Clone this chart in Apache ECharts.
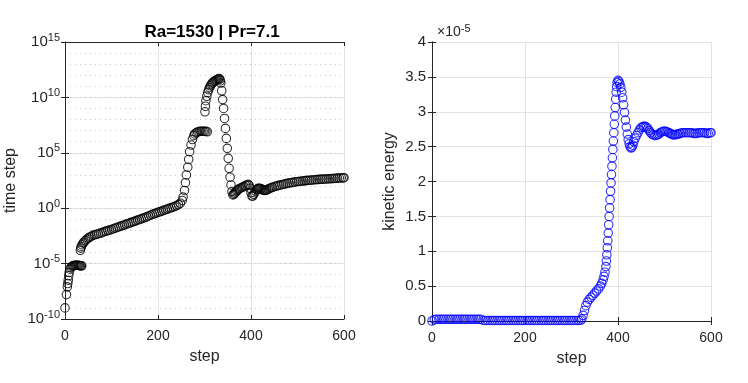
<!DOCTYPE html>
<html>
<head>
<meta charset="utf-8">
<script src="https://cdn.jsdelivr.net/npm/echarts@6/dist/echarts.min.js"></script>
<style>
  html, body { margin: 0; padding: 0; background: #fff; }
  #main { width: 748px; height: 383px; }
</style>
</head>
<body>
<div id="main"></div>
<script>
// left panel: time step, read as log10 exponents off the log axis
const stepsTime = [
  0, 3, 5, 6, 7, 8, 9, 11, 13, 15, 17, 19, 21, 23, 25, 27, 29, 31, 33, 35, 36,
  33, 34, 35, 37, 39, 41, 44, 47, 50, 53, 56, 60, 64, 68, 72, 76, 80, 84, 88, 92, 96,
  100, 104, 108, 112, 116, 120, 124, 128, 132, 136, 140, 144, 148, 152, 156, 160, 164, 168,
  172, 176, 180, 184, 188, 192, 196, 200, 204, 208, 212, 216, 220, 224, 228, 232, 236, 240,
  244, 248, 252, 254, 257, 259, 261, 264, 266, 268, 271, 274, 277, 279, 282, 285, 288, 291,
  294, 297, 300, 303, 306,
  301, 302, 303, 305, 307, 309, 311, 313, 315, 317, 319, 321, 323, 325, 327, 329, 331, 333,
  334, 335, 337, 339, 341, 343, 345, 347, 349, 351, 353, 355, 357, 359, 361, 363, 365, 367,
  369, 371, 373, 376, 379, 382, 385, 388, 391, 394, 396, 398, 400, 402, 404, 406, 408, 410,
  412, 414, 416, 418, 420, 422, 424, 426, 428, 430, 432, 434, 437, 440, 443, 446, 450, 454,
  458, 462, 466, 470, 474, 478, 482, 486, 490, 494, 498, 502, 506, 510, 514, 518, 522, 526,
  530, 534, 538, 542, 546, 550, 554, 558, 562, 566, 570, 574, 578, 582, 586, 590, 594, 598, 600
];
const timeStepExp = [
  -9.0, -7.8, -7.1, -6.8, -6.5, -6.1, -5.8, -5.5, -5.35, -5.25, -5.2, -5.18, -5.15, -5.15, -5.15, -5.15, -5.15, -5.18, -5.2, -5.2, -5.2,
  -3.8, -3.6, -3.45, -3.3, -3.15, -3.05, -2.93, -2.8, -2.7, -2.62, -2.55, -2.45, -2.4, -2.35, -2.3, -2.25, -2.2, -2.12, -2.07, -2.02, -1.98,
  -1.92, -1.86, -1.8, -1.74, -1.68, -1.62, -1.56, -1.5, -1.44, -1.38, -1.32, -1.26, -1.2, -1.14, -1.08, -1.02, -0.96, -0.9,
  -0.84, -0.77, -0.7, -0.63, -0.56, -0.5, -0.44, -0.38, -0.32, -0.26, -0.2, -0.14, -0.08, -0.02, 0.04, 0.1, 0.16, 0.23,
  0.32, 0.45, 0.7, 1.0, 1.6, 2.3, 3.0, 3.7, 4.4, 5.1, 5.7, 6.2, 6.55, 6.7, 6.8, 6.88, 6.92, 6.95,
  6.95, 6.95, 6.95, 6.93, 6.9,
  8.7, 9.2, 9.7, 10.1, 10.45, 10.7, 10.9, 11.05, 11.2, 11.3, 11.38, 11.45, 11.5, 11.55, 11.6, 11.65, 11.7, 11.65,
  11.5, 11.3, 10.6, 9.8, 9.0, 8.1, 7.2, 6.3, 5.4, 4.5, 3.6, 2.8, 2.1, 1.5, 1.2, 1.25, 1.35, 1.45,
  1.55, 1.62, 1.7, 1.78, 1.85, 1.9, 1.95, 2.05, 2.1, 2.15, 2.05, 1.8, 1.4, 1.1, 1.1, 1.25, 1.4, 1.55,
  1.68, 1.75, 1.8, 1.8, 1.78, 1.74, 1.68, 1.64, 1.6, 1.6, 1.62, 1.66, 1.72, 1.78, 1.84, 1.88, 1.94, 1.99,
  2.04, 2.08, 2.12, 2.16, 2.2, 2.24, 2.27, 2.3, 2.33, 2.36, 2.39, 2.41, 2.43, 2.45, 2.47, 2.49, 2.51, 2.52,
  2.54, 2.55, 2.57, 2.58, 2.6, 2.61, 2.62, 2.63, 2.64, 2.65, 2.66, 2.67, 2.68, 2.7, 2.71, 2.72, 2.73, 2.74, 2.75
];

// right panel: kinetic energy, in units of 1e-5
const stepsKE = [
  0, 5, 10, 15, 20, 25, 30, 35, 40, 45, 50, 55, 60, 65, 70, 75, 80, 85, 90, 95, 100, 105,
  110, 115, 120, 125, 130, 135, 140, 145, 150, 155, 160, 165, 170, 175, 180, 185, 190, 195,
  200, 205, 210, 215, 220, 225, 230, 235, 240, 245, 250, 255, 260, 265, 270, 275, 280, 285,
  290, 295, 300, 305, 310, 315, 320,
  322, 325, 328, 331, 334, 338, 342, 346, 350, 354, 358, 362, 365, 368, 370, 372, 374, 375,
  376, 377, 378, 379, 380, 381, 382, 383, 384, 385, 386, 387, 388, 389, 390, 391, 392, 393,
  394, 395, 396, 397, 398, 400, 402, 404, 406, 408, 410, 412, 414, 416, 418, 420, 422, 424,
  426, 428, 430, 432, 434, 437, 440, 443, 446, 449, 452, 455, 458, 461, 464, 467, 470, 473,
  476, 479, 482, 485, 488, 491, 494, 497, 500, 503, 506, 509, 512, 515, 518, 521, 524, 527,
  530, 534, 538, 542, 546, 550, 554, 558, 562, 566, 570, 574, 578, 582, 586, 590, 594, 598, 600
];
const kineticEnergy = [
  0.0, 0.02, 0.025, 0.025, 0.025, 0.025, 0.025, 0.025, 0.025, 0.025, 0.025, 0.025, 0.025, 0.025, 0.025, 0.025, 0.025, 0.025, 0.025, 0.025, 0.025, 0.025,
  0.008, 0.008, 0.008, 0.008, 0.008, 0.008, 0.008, 0.008, 0.008, 0.008, 0.008, 0.008, 0.008, 0.008, 0.008, 0.008, 0.008, 0.008,
  0.008, 0.008, 0.008, 0.008, 0.008, 0.008, 0.008, 0.008, 0.008, 0.008, 0.008, 0.008, 0.008, 0.008, 0.008, 0.008, 0.008, 0.008,
  0.008, 0.008, 0.008, 0.008, 0.008, 0.008, 0.01,
  0.03, 0.08, 0.15, 0.22, 0.27, 0.31, 0.34, 0.37, 0.40, 0.43, 0.46, 0.50, 0.54, 0.59, 0.64, 0.70, 0.78, 0.86,
  0.95, 1.05, 1.15, 1.26, 1.38, 1.50, 1.62, 1.74, 1.86, 1.98, 2.10, 2.22, 2.34, 2.46, 2.58, 2.70, 2.82, 2.94,
  3.06, 3.18, 3.28, 3.36, 3.42, 3.45, 3.43, 3.40, 3.35, 3.28, 3.20, 3.10, 2.99, 2.88, 2.78, 2.68, 2.60, 2.54,
  2.50, 2.48, 2.49, 2.52, 2.57, 2.62, 2.66, 2.70, 2.74, 2.77, 2.78, 2.79, 2.79, 2.78, 2.76, 2.73, 2.70, 2.68,
  2.67, 2.66, 2.66, 2.67, 2.68, 2.70, 2.71, 2.72, 2.72, 2.72, 2.71, 2.70, 2.69, 2.68, 2.67, 2.67, 2.67, 2.68,
  2.68, 2.69, 2.70, 2.70, 2.70, 2.70, 2.70, 2.70, 2.69, 2.69, 2.69, 2.70, 2.70, 2.70, 2.70, 2.69, 2.69, 2.70, 2.70
];

const xTicks = [0, 200, 400, 600];
const keTicks = [0, 0.5, 1, 1.5, 2, 2.5, 3, 3.5, 4];

const font = "'Liberation Sans', Arial, sans-serif";
const ink = "#262626";
const gridGray = "#e3e3e3";

const timeData = stepsTime.map((s, i) => [s, Math.pow(10, timeStepExp[i])]);
const keData = stepsKE.map((s, i) => [s, kineticEnergy[i]]);

const myChart = echarts.init(document.getElementById("main"));

const boxLine = { show: true, lineStyle: { color: ink, width: 1 } };
const tickIn = { show: true, inside: true, length: 4, lineStyle: { color: ink } };
const nameStyle = { fontFamily: font, fontSize: 16, color: ink };

function xAxes(gridIndex) {
  const base = {
    type: "value",
    gridIndex: gridIndex,
    min: xTicks[0],
    max: xTicks[xTicks.length - 1],
    interval: 200,
  };
  return [
    Object.assign({}, base, {
      position: "bottom",
      name: "step",
      nameLocation: "middle",
      nameGap: 30,
      nameTextStyle: nameStyle,
      axisLine: boxLine,
      axisTick: tickIn,
      axisLabel: { fontFamily: font, fontSize: 14, color: ink, margin: 10 },
      splitLine: { show: true, lineStyle: { color: gridGray, width: 1 } },
    }),
    Object.assign({}, base, {
      position: "top",
      axisLine: boxLine,
      axisTick: tickIn,
      axisLabel: { show: false },
      splitLine: { show: false },
    }),
  ];
}

const logRich = {
  b: { fontFamily: font, fontSize: 15, color: ink },
  s: { fontFamily: font, fontSize: 11, color: ink, padding: [0, 0, 9, 0] },
};

const logBase = {
  type: "log",
  logBase: 10,
  gridIndex: 0,
  min: 1e-10,
  max: 1e15,
  interval: 5,
};

myChart.setOption({
  animation: false,
  title: [
    {
      text: "Ra=1530 | Pr=7.1",
      left: 207,
      top: 19,
      textAlign: "center",
      textStyle: { fontFamily: font, fontSize: 17, fontWeight: "bold", color: "#000" },
    },
    {
      text: "{t|×10}{s|-5}",
      left: 432,
      top: 18,
      textStyle: {
        rich: {
          t: { fontFamily: font, fontSize: 14, fontWeight: "normal", color: ink },
          s: { fontFamily: font, fontSize: 11, fontWeight: "normal", color: ink, padding: [0, 0, 8, 0] },
        },
      },
    },
  ],
  grid: [
    { left: 65, top: 42, width: 279, height: 277 },
    { left: 432, top: 42, width: 279, height: 279 },
  ],
  xAxis: [...xAxes(0), ...xAxes(1)],
  yAxis: [
    Object.assign({}, logBase, {
      position: "left",
      name: "time step",
      nameLocation: "middle",
      nameGap: 46,
      nameTextStyle: nameStyle,
      axisLine: boxLine,
      axisTick: tickIn,
      axisLabel: {
        margin: 5,
        formatter: (v) => "{b|10}{s|" + Math.round(Math.log10(v)) + "}",
        rich: logRich,
      },
      splitLine: { show: true, lineStyle: { color: gridGray, width: 1 } },
    }),
    Object.assign({}, logBase, {
      position: "right",
      axisLine: boxLine,
      axisTick: tickIn,
      axisLabel: { show: false },
      splitLine: { show: false },
    }),
    Object.assign({}, logBase, {
      // decade grid, dotted
      interval: 1,
      position: "left",
      axisLine: { show: false },
      axisTick: { show: false },
      axisLabel: { show: false },
      splitLine: { show: true, lineStyle: { color: "#c8c8c8", width: 1, type: [1, 4] } },
      z: 0,
    }),
    {
      type: "value",
      gridIndex: 1,
      position: "left",
      min: keTicks[0],
      max: keTicks[keTicks.length - 1],
      interval: 0.5,
      name: "kinetic energy",
      nameLocation: "middle",
      nameGap: 34,
      nameTextStyle: nameStyle,
      axisLine: boxLine,
      axisTick: tickIn,
      axisLabel: { fontFamily: font, fontSize: 15, color: ink, margin: 6 },
      splitLine: { show: true, lineStyle: { color: gridGray, width: 1 } },
    },
    {
      type: "value",
      gridIndex: 1,
      position: "right",
      min: keTicks[0],
      max: keTicks[keTicks.length - 1],
      interval: 0.5,
      axisLine: boxLine,
      axisTick: tickIn,
      axisLabel: { show: false },
      splitLine: { show: false },
    },
  ],
  series: [
    {
      name: "time step",
      type: "scatter",
      xAxisIndex: 0,
      yAxisIndex: 0,
      symbol: "circle",
      symbolSize: 8.5,
      itemStyle: { color: "rgba(0,0,0,0)", borderColor: "#000", borderWidth: 1.1 },
      data: timeData,
    },
    {
      name: "kinetic energy",
      type: "scatter",
      xAxisIndex: 2,
      yAxisIndex: 3,
      symbol: "circle",
      symbolSize: 8.5,
      itemStyle: { color: "rgba(0,0,0,0)", borderColor: "#0000ff", borderWidth: 1.1 },
      data: keData,
    },
  ],
});
</script>
</body>
</html>
